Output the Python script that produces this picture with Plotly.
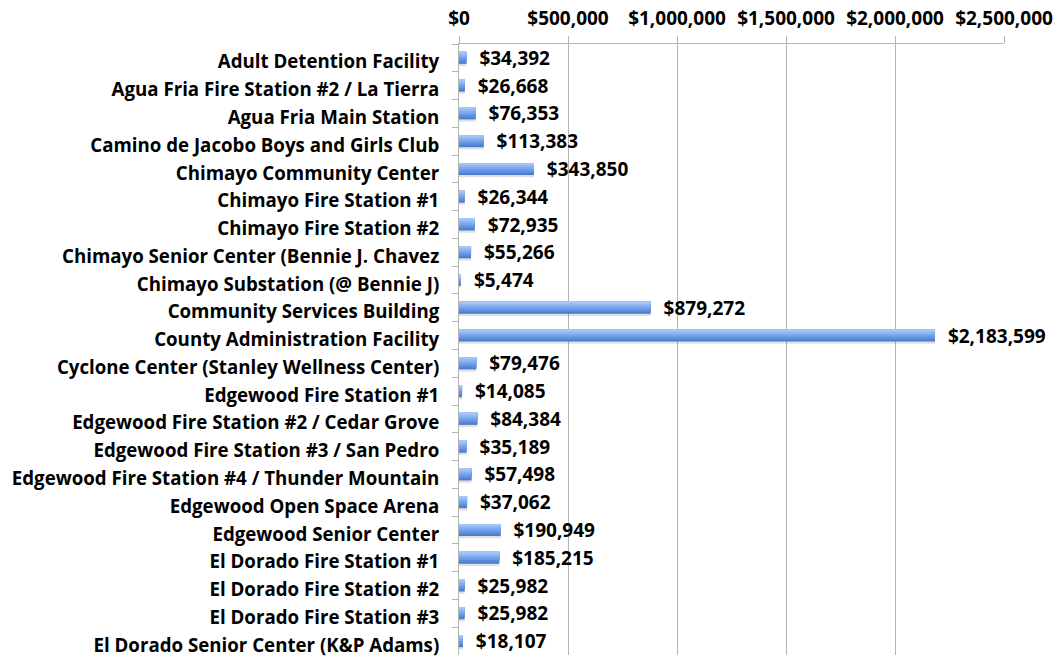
import plotly.graph_objects as go

facilities = [
    "Adult Detention Facility",
    "Agua Fria Fire Station #2 / La Tierra",
    "Agua Fria Main Station",
    "Camino de Jacobo Boys and Girls Club",
    "Chimayo Community Center",
    "Chimayo Fire Station #1",
    "Chimayo Fire Station #2",
    "Chimayo Senior Center (Bennie J. Chavez",
    "Chimayo Substation (@ Bennie J)",
    "Community Services Building",
    "County Administration Facility",
    "Cyclone Center (Stanley Wellness Center)",
    "Edgewood Fire Station #1",
    "Edgewood Fire Station #2 / Cedar Grove",
    "Edgewood Fire Station #3 / San Pedro",
    "Edgewood Fire Station #4 / Thunder Mountain",
    "Edgewood Open Space Arena",
    "Edgewood Senior Center",
    "El Dorado Fire Station #1",
    "El Dorado Fire Station #2",
    "El Dorado Fire Station #3",
    "El Dorado Senior Center (K&P Adams)",
]
values = [34392, 26668, 76353, 113383, 343850, 26344, 72935, 55266, 5474,
          879272, 2183599, 79476, 14085, 84384, 35189, 57498, 37062, 190949,
          185215, 25982, 25982, 18107]
tick_values = [0, 500000, 1000000, 1500000, 2000000, 2500000]

FONT = "'Open Sans', sans-serif"
BAR_W = 0.43
# gradient bands from bottom (dark) to top (light): (fraction of bar height from top, colour)
bands = [(1.00, "#4a7ccd"), (0.85, "#5b8cdc"), (0.68, "#6c9be6"),
         (0.50, "#7eaaee"), (0.32, "#91b9f3"), (0.16, "#a3c6f7")]

fig = go.Figure()
# soft shadow
fig.add_trace(go.Bar(
    y=facilities, x=values, orientation="h",
    width=BAR_W, offset=-BAR_W / 2 + 0.08,
    marker=dict(color="rgba(0,0,0,0.12)", line=dict(width=0)),
    hoverinfo="skip",
))
for i, (frac, col) in enumerate(bands):
    kw = {}
    if i == 0:
        kw = dict(
            text=["\u00a0\u00a0${:,}".format(v) for v in values],
            textposition="outside",
            constraintext="none",
            textfont=dict(family=FONT, size=19, color="black", weight="bold"),
            cliponaxis=False,
        )
    fig.add_trace(go.Bar(
        y=facilities, x=values, orientation="h",
        width=BAR_W * frac, offset=-BAR_W / 2,
        marker=dict(color=col, line=dict(width=0)),
        hoverinfo="skip",
        **kw,
    ))

fig.update_layout(
    width=1060, height=658,
    margin=dict(l=459, r=56, t=44, b=3),
    paper_bgcolor="white",
    plot_bgcolor="white",
    barmode="overlay",
    showlegend=False,
    font=dict(family=FONT, size=19, color="black"),
)
fig.update_xaxes(
    side="top",
    range=[0, 2500000],
    tickvals=tick_values,
    ticktext=["${:,}".format(v) for v in tick_values],
    tickfont=dict(family=FONT, size=19, color="black", weight="bold"),
    showgrid=True, gridcolor="#b3b3b3", gridwidth=1,
    showline=True, linecolor="#b3b3b3", linewidth=1,
    ticks="outside", ticklen=7, tickcolor="#b3b3b3",
    ticklabelstandoff=3,
    zeroline=False,
    automargin=False,
)
fig.update_yaxes(
    autorange="reversed",
    tickfont=dict(family=FONT, size=18.7, color="black", weight="bold"),
    showline=True, linecolor="#b3b3b3", linewidth=1,
    ticks="outside", ticklen=6, tickcolor="#b3b3b3",
    tickson="boundaries",
    ticklabelstandoff=15,
    ticklabelshift=-4,
    showgrid=False,
    automargin=False,
)

fig.write_html(
    "out.html",
    config={"displayModeBar": False},
    post_script="document.body.style.margin='0';",
)
